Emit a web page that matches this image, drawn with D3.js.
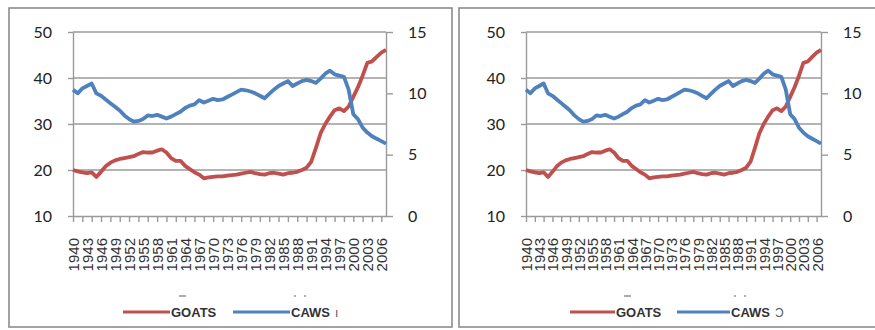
<!DOCTYPE html>
<html>
<head>
<meta charset="utf-8">
<script src="https://cdn.jsdelivr.net/npm/d3@7/dist/d3.min.js"></script>
<style>
  html, body { margin: 0; padding: 0; background: #fff; }
  svg { display: block; }
</style>
</head>
<body>
<svg id="chart" width="875" height="330"></svg>
<script>
// ---------------- DATA ----------------
const years = [1940,1941,1942,1943,1944,1945,1946,1947,1948,1949,
  1950,1951,1952,1953,1954,1955,1956,1957,1958,1959,
  1960,1961,1962,1963,1964,1965,1966,1967,1968,1969,
  1970,1971,1972,1973,1974,1975,1976,1977,1978,1979,
  1980,1981,1982,1983,1984,1985,1986,1987,1988,1989,
  1990,1991,1992,1993,1994,1995,1996,1997,1998,1999,
  2000,2001,2002,2003,2004,2005,2006,2007];

// GOATS (left axis)
const goats = [20.0,19.7,19.5,19.3,19.5,18.5,19.6,20.8,21.6,22.1,
  22.4,22.6,22.8,23.0,23.5,23.9,23.8,23.8,24.2,24.5,
  23.8,22.6,22.0,22.0,20.9,20.2,19.5,19.0,18.2,18.4,
  18.5,18.6,18.6,18.8,18.9,19.0,19.2,19.4,19.6,19.3,
  19.1,19.0,19.3,19.4,19.2,19.0,19.3,19.4,19.6,20.0,
  20.5,21.8,24.8,28.0,30.0,31.6,33.0,33.4,32.8,33.8,
  35.9,38.0,40.5,43.3,43.6,44.6,45.5,46.1];

// CAWS (right axis)
const caws = [10.3,10.0,10.4,10.6,10.8,10.0,9.8,9.5,9.2,8.9,
  8.6,8.2,7.9,7.7,7.75,7.9,8.2,8.15,8.25,8.1,
  7.95,8.1,8.3,8.5,8.8,9.0,9.1,9.45,9.25,9.4,
  9.55,9.45,9.5,9.7,9.9,10.1,10.3,10.25,10.15,10.0,
  9.8,9.6,9.95,10.3,10.6,10.8,11.0,10.6,10.8,11.0,
  11.1,11.0,10.85,11.2,11.6,11.85,11.55,11.45,11.35,10.3,
  8.3,7.9,7.2,6.8,6.5,6.3,6.1,5.9];

const leftTicks = [10, 20, 30, 40, 50];
const rightTicks = [0, 5, 10, 15];
const labelYears = [1940,1943,1946,1949,1952,1955,1958,1961,1964,1967,1970,
  1973,1976,1979,1982,1985,1988,1991,1994,1997,2000,2003,2006];
const markYears = years.filter((d, i) => i % 2 === 0);

const seriesNames = ["GOATS", "CAWS"];
const seriesColors = ["#C0504D", "#4F81BD"];

// ---------------- DRAW ----------------
const svg = d3.select("#chart");
const GRID = "#9a9a9a";

// panel frames
svg.append("rect").attr("x", 9).attr("y", 8).attr("width", 443).attr("height", 319)
  .attr("fill", "none").attr("stroke", "#8c8c8c").attr("stroke-width", 1.6);
svg.append("rect").attr("x", 459).attr("y", 8).attr("width", 430).attr("height", 319)
  .attr("fill", "none").attr("stroke", "#8c8c8c").attr("stroke-width", 1.6);

function drawPanel(cfg) {
  const g = svg.append("g");
  const top = 32, bottom = 216;
  const x = d3.scalePoint().domain(years).range([cfg.x0, cfg.x1]);
  const yL = d3.scaleLinear().domain([10, 50]).range([bottom, top]);
  const yR = d3.scaleLinear().domain([0, 15]).range([bottom, top]);

  // gridlines
  g.append("g").selectAll("line").data(leftTicks.filter(d => d > 10)).join("line")
    .attr("x1", cfg.x0).attr("x2", cfg.x1)
    .attr("y1", d => yL(d)).attr("y2", d => yL(d))
    .attr("stroke", GRID).attr("stroke-width", 1.4);

  // left axis
  const la = g.append("g").attr("transform", `translate(${cfg.x0},0)`)
    .call(d3.axisLeft(yL).tickValues(leftTicks).tickSize(5).tickSizeOuter(0).tickPadding(16));
  // right axis
  const ra = g.append("g").attr("transform", `translate(${cfg.x1},0)`)
    .call(d3.axisRight(yR).tickValues(rightTicks).tickSize(7).tickSizeOuter(0).tickPadding(15));
  [la, ra].forEach(a => {
    a.select(".domain").attr("stroke", GRID).attr("stroke-width", 1.4);
    a.selectAll(".tick line").attr("stroke", GRID).attr("stroke-width", 1.4);
    a.selectAll("text").attr("font-family", "Lato, 'Open Sans', sans-serif")
      .attr("font-size", 16).attr("fill", "#222");
  });

  // x axis tick marks
  const xa = g.append("g").attr("transform", `translate(0,${bottom})`)
    .call(d3.axisBottom(x).tickValues(markYears).tickSize(6).tickSizeOuter(0).tickFormat(""));
  xa.select(".domain").attr("stroke", GRID).attr("stroke-width", 1.4);
  xa.selectAll(".tick line").attr("stroke", GRID).attr("stroke-width", 1.4);

  // x axis labels
  const xl = g.append("g").attr("transform", `translate(0,${bottom})`)
    .call(d3.axisBottom(x).tickValues(labelYears).tickSize(0));
  xl.select(".domain").remove();
  xl.selectAll("text")
    .attr("transform", "rotate(-90)")
    .attr("x", -22).attr("y", 0).attr("dy", "0.36em")
    .attr("text-anchor", "end")
    .attr("font-family", "'Liberation Sans', Arial, sans-serif")
    .attr("font-size", 15).attr("fill", "#333");

  // lines
  const lineL = d3.line().x((d, i) => x(years[i])).y(d => yL(d));
  const lineR = d3.line().x((d, i) => x(years[i])).y(d => yR(d));
  g.append("path").datum(goats).attr("d", lineL).attr("fill", "none")
    .attr("stroke", seriesColors[0]).attr("stroke-width", 3.8).attr("stroke-linejoin", "round");
  g.append("path").datum(caws).attr("d", lineR).attr("fill", "none")
    .attr("stroke", seriesColors[1]).attr("stroke-width", 3.8).attr("stroke-linejoin", "round");

  // legend
  const ly = 312;
  const lg = g.append("g");
  cfg.legend.forEach((L, i) => {
    lg.append("line").attr("x1", L.lx0).attr("x2", L.lx1).attr("y1", ly).attr("y2", ly)
      .attr("stroke", seriesColors[i]).attr("stroke-width", 3.2);
    lg.append("text").attr("x", L.lx1 + 1).attr("y", ly + 5)
      .attr("font-family", "'Liberation Sans', Arial, sans-serif")
      .attr("font-weight", "bold").attr("font-size", 13).attr("fill", "#333")
      .text(seriesNames[i]);
  });
  // faint specks seen above the legend labels
  const gx = cfg.legend[0].lx1, cx = cfg.legend[1].lx1;
  lg.append("line").attr("x1", gx + 9).attr("x2", gx + 16).attr("y1", 296).attr("y2", 296)
    .attr("stroke", "#777").attr("stroke-width", 1.2);
  lg.selectAll("circle.speck").data([cx + 5, cx + 15]).join("circle")
    .attr("class", "speck").attr("cx", d => d).attr("cy", 296).attr("r", 0.9).attr("fill", "#888");
  lg.append("text").attr("x", cx + 45).attr("y", ly + 5)
    .attr("font-family", "'Liberation Sans', Arial, sans-serif").attr("font-size", 12)
    .attr("fill", "#555").text(cfg.tail);
}

drawPanel({ x0: 73, x1: 386, tail: "ı",
  legend: [{ lx0: 123, lx1: 170 }, { lx0: 233, lx1: 290 }] });
drawPanel({ x0: 526, x1: 821, tail: "Ɔ",
  legend: [{ lx0: 570, lx1: 615 }, { lx0: 677, lx1: 730 }] });
</script>
</body>
</html>
